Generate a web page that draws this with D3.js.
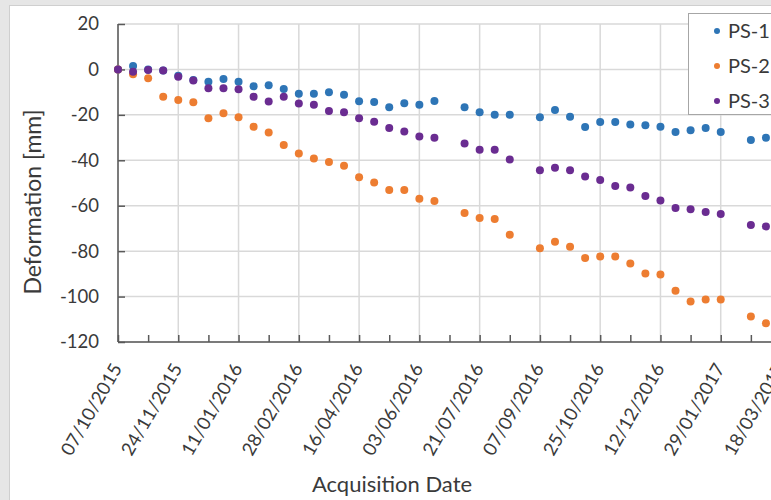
<!DOCTYPE html>
<html>
<head>
<meta charset="utf-8">
<script src="https://cdn.jsdelivr.net/npm/d3@7"></script>
<style>
  body { margin: 0; background: #e6e6e6; }
  svg { display: block; font-family: Lato, "Open Sans", sans-serif; }
</style>
</head>
<body>
<div id="div_graph"></div>
<script>
// acquisition dates (12 day revisit, a few missing)
var dates = ["07/10/2015","19/10/2015","31/10/2015","12/11/2015","24/11/2015","06/12/2015",
  "18/12/2015","30/12/2015","11/01/2016","23/01/2016","04/02/2016","16/02/2016","28/02/2016",
  "11/03/2016","23/03/2016","04/04/2016","16/04/2016","28/04/2016","10/05/2016","22/05/2016",
  "03/06/2016","15/06/2016","09/07/2016","21/07/2016","02/08/2016","14/08/2016","07/09/2016",
  "19/09/2016","01/10/2016","13/10/2016","25/10/2016","06/11/2016","18/11/2016","30/11/2016",
  "12/12/2016","24/12/2016","05/01/2017","17/01/2017","29/01/2017","22/02/2017","06/03/2017"];

var ps1 = [0,1.5,0,-0.5,-2.8,-4.6,-5.4,-4.2,-5.4,-7.4,-7,-8.6,-10.7,-10.7,-10.1,-11.1,-14,-14.3,
  -16.7,-14.9,-15.5,-13.9,-16.7,-18.9,-20,-20,-21.1,-17.9,-20.8,-25.4,-23.1,-23.1,-24.2,-24.6,
  -25.2,-27.5,-26.8,-25.8,-27.5,-31.1,-30.1];
var ps2 = [0,-2.1,-3.9,-12,-13.5,-14.5,-21.5,-19.3,-21,-25.2,-27.8,-33.3,-37,-39.2,-40.7,-42.4,
  -47.5,-49.8,-53.1,-53.1,-56.9,-57.9,-63.2,-65.4,-65.8,-72.8,-78.7,-75.9,-78.1,-83,-82.4,-82.4,
  -85.4,-89.8,-90.3,-97.4,-102.2,-101.3,-101.3,-108.8,-111.8];
var ps3 = [0,-1,-0.2,-0.5,-3.2,-4.9,-8.3,-8.3,-8.7,-12,-14.1,-12,-15,-15.5,-18.3,-18.9,-21.5,-23,
  -25.8,-27.3,-29.5,-30.1,-32.6,-35.4,-35.4,-39.6,-44.4,-43.3,-44.4,-47.1,-48.7,-51.3,-52,-55.7,
  -57.7,-61,-61.6,-62.8,-63.7,-68.5,-69.1];

var seriesNames = ["PS-1","PS-2","PS-3"];
var seriesColors = ["#2e75b6","#ed7d31","#6a2c91"];

var xTickLabels = ["07/10/2015","24/11/2015","11/01/2016","28/02/2016","16/04/2016","03/06/2016",
  "21/07/2016","07/09/2016","25/10/2016","12/12/2016","29/01/2017","18/03/2017"];
var yTicks = [-120,-100,-80,-60,-40,-20,0,20];

var W = 771, H = 500;
var margin = {top: 24, left: 118, bottom: 158};
var plotW = 663, plotH = H - margin.top - margin.bottom;

var parse = d3.timeParse("%d/%m/%Y");
var xMajor = xTickLabels.map(parse);
var xMinor = xMajor.map(function(d) { return d3.timeDay.offset(d, 24); });

var x = d3.scaleTime()
  .domain([xMajor[0], xMajor[xMajor.length - 1]])
  .range([margin.left, margin.left + plotW]);
var y = d3.scaleLinear()
  .domain([-120, 20])
  .range([margin.top + plotH, margin.top]);

var svg = d3.select("#div_graph").append("svg")
  .attr("width", W)
  .attr("height", H);

// chart area frame
svg.append("rect")
  .attr("x", 9.5).attr("y", 5.5)
  .attr("width", W).attr("height", H)
  .attr("fill", "#fff")
  .attr("stroke", "#cfcfcf");

// grid
svg.append("g").selectAll("line.h")
  .data(yTicks).enter().append("line")
    .attr("x1", margin.left).attr("x2", margin.left + plotW + 40)
    .attr("y1", function(d) { return y(d); })
    .attr("y2", function(d) { return y(d); })
    .attr("stroke", "#d9d9d9").attr("stroke-width", 1.5);

svg.append("g").selectAll("line.v")
  .data(xMajor).enter().append("line")
    .attr("x1", function(d) { return x(d); })
    .attr("x2", function(d) { return x(d); })
    .attr("y1", y(20)).attr("y2", y(-120))
    .attr("stroke", "#d9d9d9").attr("stroke-width", 1.5);

// axes, ticks point inward
var xAxis = svg.append("g")
  .attr("transform", "translate(0," + y(-120) + ")")
  .call(d3.axisBottom(x).tickValues(xMajor.concat(xMinor)).tickSize(-7).tickFormat(""));
xAxis.select(".domain").attr("d", "M" + margin.left + ",0H" + (W + 20));

var yAxis = svg.append("g")
  .attr("transform", "translate(" + margin.left + ",0)")
  .call(d3.axisLeft(y).tickValues(yTicks).tickSize(-7).tickPadding(19)
    .tickFormat(function(d) { return String(d); }));
yAxis.select(".domain").attr("d", "M0," + y(20) + "V" + y(-120));

svg.selectAll(".domain, .tick line").attr("stroke", "#595959").attr("stroke-width", 1.5);
yAxis.selectAll("text")
  .attr("font-size", 18.5).attr("fill", "#3a3a3a")
  .style("font-family", "Lato, sans-serif");

svg.append("g").selectAll("text")
  .data(xTickLabels).enter().append("text")
    .attr("transform", function(d) { return "translate(" + (x(parse(d)) - 1) + ",365) rotate(-60)"; })
    .attr("text-anchor", "end")
    .attr("dy", "0.35em")
    .attr("font-size", 18.5)
    .attr("fill", "#3a3a3a")
    .text(function(d) { return d; });

// axis titles
svg.append("text")
  .attr("x", 392).attr("y", 492)
  .attr("text-anchor", "middle")
  .attr("font-size", 22).attr("fill", "#3a3a3a")
  .text("Acquisition Date");

svg.append("text")
  .attr("transform", "translate(41,202) rotate(-90)")
  .attr("text-anchor", "middle")
  .attr("font-size", 23).attr("fill", "#3a3a3a")
  .text("Deformation [mm]");

// points
var series = [ps1, ps2, ps3];
series.forEach(function(vals, s) {
  svg.append("g").selectAll("circle")
    .data(vals).enter().append("circle")
      .attr("cx", function(d, i) { return x(parse(dates[i])); })
      .attr("cy", function(d) { return y(d); })
      .attr("r", 4)
      .attr("fill", seriesColors[s]);
});

// legend
var legend = svg.append("g");
legend.append("rect")
  .attr("x", 688.5).attr("y", 13.5)
  .attr("width", 120).attr("height", 101)
  .attr("fill", "#fff").attr("stroke", "#a6a6a6");
var legY = [31, 66, 101];
var item = legend.selectAll("g.item")
  .data(seriesNames).enter().append("g")
    .attr("transform", function(d, i) { return "translate(717," + legY[i] + ")"; });
item.append("circle")
  .attr("r", 3)
  .attr("fill", function(d, i) { return seriesColors[i]; });
item.append("text")
  .attr("x", 11).attr("dy", "0.35em")
  .attr("font-size", 20).attr("fill", "#3a3a3a")
  .text(function(d) { return d; });
</script>
</body>
</html>
